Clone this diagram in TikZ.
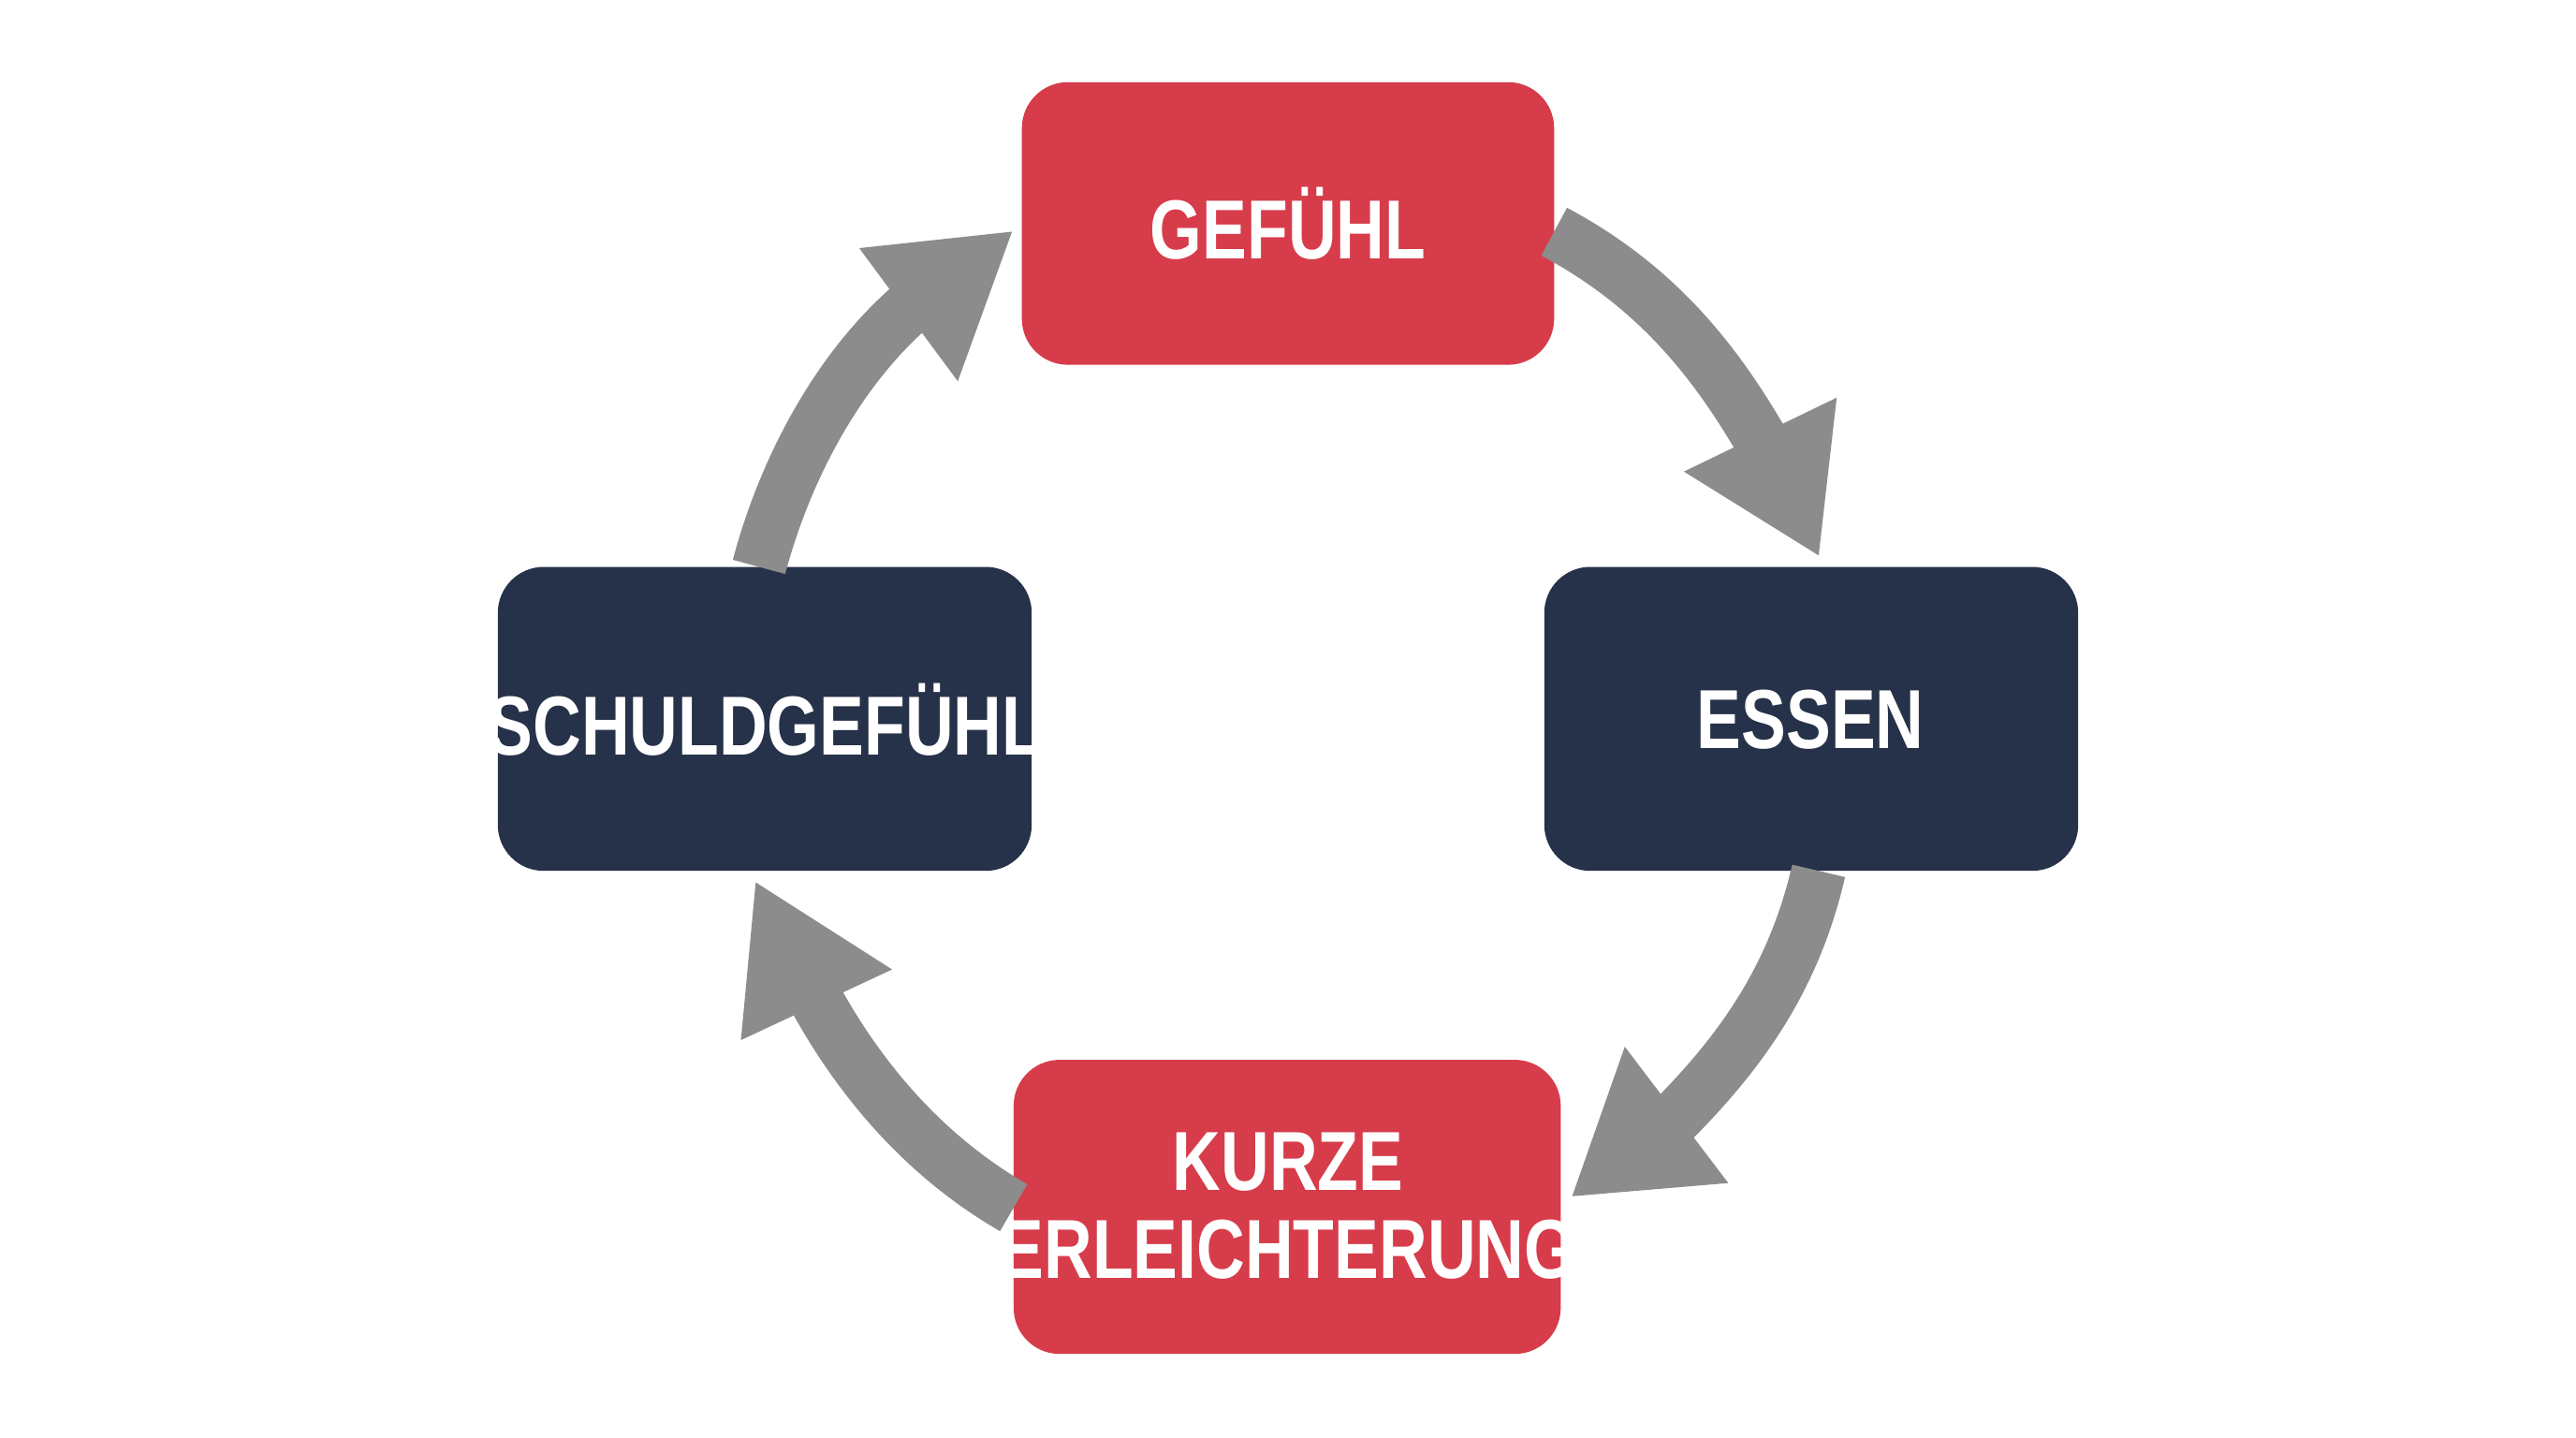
\documentclass[tikz,border=0pt]{standalone}
\usepackage{fontspec}
\newfontfamily\lab{Liberation Sans}[FakeStretch=0.8]
\definecolor{cred}{HTML}{D73C4A}
\definecolor{cnavy}{HTML}{263249}
\definecolor{cgray}{HTML}{8C8C8C}
\begin{document}
\begin{tikzpicture}[x=0.01cm,y=-0.01cm,
  box/.style={draw=none,rounded corners=0.28cm,text=white,align=center,
    font=\lab\bfseries\fontsize{14.5}{14.5}\selectfont},
  shaft/.style={draw=cgray,line width=0.33cm},
  head/.style={fill=cgray,draw=none}]
\useasboundingbox[fill=white] (0,0) rectangle (1568,875);
\fill[cred,rounded corners=0.28cm] (622,50) rectangle (946,222);
\node[box] (g) at (784,136) {GEFÜHL};
\fill[cnavy,rounded corners=0.28cm] (940,345) rectangle (1265,530);
\node[box] (e) at (1102,438) {ESSEN};
\fill[cred,rounded corners=0.28cm] (617,645) rectangle (950,824);
\node[box] (k) at (784,734) {KURZE\\[0.8pt]ERLEICHTERUNG};
\fill[cnavy,rounded corners=0.28cm] (303,345) rectangle (628,530);
\node[box] (s) at (466,438) {SCHULDGEFÜHL};
\coordinate (a1s) at (946,141); \coordinate (a1e) at (1072,268);
\coordinate (a2s) at (1107,530); \coordinate (a2e) at (1017,683);
\coordinate (a3s) at (617,735); \coordinate (a3e) at (496,607);
\coordinate (a4s) at (462,345); \coordinate (a4e) at (555,186);
\draw[shaft] (a1s) .. controls (1010,175) and (1045,222) .. (a1e);
\fill[head] (1025,287) -- (1118,242) -- (1107,338) -- cycle;
\draw[shaft] (a2s) .. controls (1092,595) and (1060,640) .. (a2e);
\fill[head] (989,637) -- (1052,720) -- (957,728) -- cycle;
\draw[shaft] (a3s) .. controls (565,705) and (525,660) .. (a3e);
\fill[head] (460,537) -- (543,590) -- (451,633) -- cycle;
\draw[shaft] (a4s) .. controls (478,285) and (510,225) .. (a4e);
\fill[head] (523,151) -- (616,141) -- (583,232) -- cycle;
\end{tikzpicture}
\end{document}
